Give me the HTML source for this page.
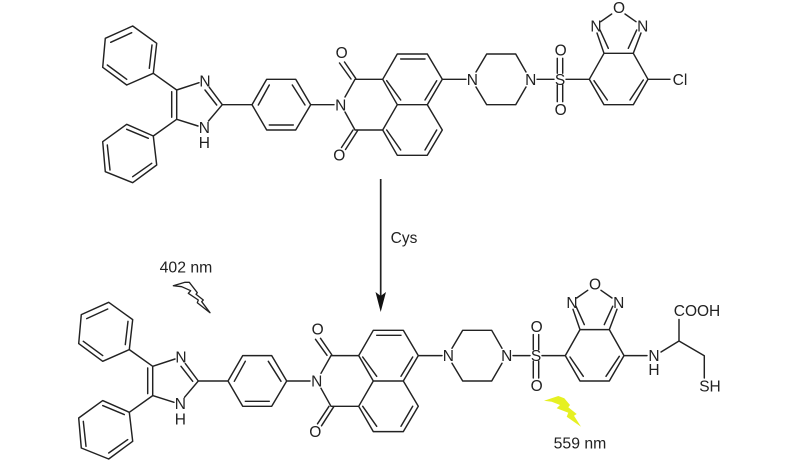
<!DOCTYPE html>
<html>
<head>
<meta charset="utf-8">
<style>
html,body{margin:0;padding:0;background:#fff;width:800px;height:460px;overflow:hidden}
svg{display:block}
text{font-family:"Liberation Sans",sans-serif;font-size:15.5px;fill:#222;text-anchor:middle}
.b{fill:none;stroke:#222;stroke-width:1.45;stroke-linejoin:round;stroke-linecap:round}
</style>
</head>
<body>
<svg width="800" height="460" viewBox="0 0 800 460" xmlns="http://www.w3.org/2000/svg">
<rect width="800" height="460" fill="#fff"/>

<!-- Top molecule -->
<g>
<path class="b" d="M132.7 26L156.7 43.3L153.3 73.3L126.7 85L102.7 67.3L105.3 38.3ZM110.7 42.3L131.7 32.7M152 45L149.3 68.3M107.3 65L126.7 79.3
M153.3 136L126.7 124.3L102.7 141.7L105.3 171.7L132.7 182.7L156.7 165ZM126.7 129.3L148.3 138.3M107.3 145L110 170M132.7 176.7L151.7 163.3
M153.3 73.3L176.7 90L199 82.7M176.7 90V119.3M171.7 91.7V117.3M153.3 136L176.7 119.3L198 126
M209.3 87.3L222.3 104.7L208.5 121M205 90L216.7 105M222.3 104.7H252
M252 104.7L266.7 79.3H295.7L310.7 104.7L295.7 130H266.7ZM258.3 105L269.3 85M292.3 85L305 105M269.3 125H293.3
M310.7 104.7H334M345 97L355 79.3H382.7M345 112L355 130H382.7
M355.7 78.3L344.5 62M351 79L339.5 63M358 130L345.5 149.5M353 130L341.5 147.5
M382.7 79.3L397.3 54H427.3L442.3 79.3L427.3 104.7H397.3ZM400.7 59H425M425 100L436.7 80.7M386.7 80.7L400.7 100
M397.3 104.7L382.7 130L397.3 155.3H427.3L442.3 130L427.3 104.7M386.7 130L400.7 150M425 150L436.7 130
M442.3 79.3H466M476 72L486.7 54H515.7L526 72M526 87L515.7 104.7H486.7L476 87
M537 79.3H554M566 79.3H589.3M557.3 58.3V73.3M562.7 58.3V73.3M557.3 85V101.7M562.7 85V101.7
M589.3 79.3L604 53.3H633.3L648 79.3L633.3 104.7H604ZM594 80.7L607.3 100M630 100L643.3 80
M604 53.3L597 33M608.3 48.3L600 30M633.3 53.3L641 33M628.3 48.3L636.7 30
M600.7 21.7L611.7 14M625 14L636 21.7M648 79.3H670"/>
<text x="205" y="86.3">N</text>
<text x="204.3" y="132.8">N</text>
<text x="204.3" y="148">H</text>
<text x="340.7" y="110.3">N</text>
<text x="341.7" y="58.2">O</text>
<text x="339.3" y="160.5">O</text>
<text x="472.3" y="84.8">N</text>
<text x="530.7" y="84.8">N</text>
<text x="560" y="84.8">S</text>
<text x="560.7" y="55.5">O</text>
<text x="560.7" y="114.8">O</text>
<text x="596" y="31.5">N</text>
<text x="642.7" y="31.5">N</text>
<text x="619" y="13.2">O</text>
<text x="680" y="84.8">Cl</text>
</g>

<!-- Arrow -->
<path d="M380.7 179V298" stroke="#222" stroke-width="1.7" fill="none"/>
<path d="M375.5 292L380.7 296L386 292L380.7 312Z" fill="#111"/>
<text x="404" y="243">Cys</text>

<!-- Bottom molecule -->
<g transform="translate(-24 276.3)">
<path class="b" d="M132.7 26L156.7 43.3L153.3 73.3L126.7 85L102.7 67.3L105.3 38.3ZM110.7 42.3L131.7 32.7M152 45L149.3 68.3M107.3 65L126.7 79.3
M153.3 136L126.7 124.3L102.7 141.7L105.3 171.7L132.7 182.7L156.7 165ZM126.7 129.3L148.3 138.3M107.3 145L110 170M132.7 176.7L151.7 163.3
M153.3 73.3L176.7 90L199 82.7M176.7 90V119.3M171.7 91.7V117.3M153.3 136L176.7 119.3L198 126
M209.3 87.3L222.3 104.7L208.5 121M205 90L216.7 105M222.3 104.7H252
M252 104.7L266.7 79.3H295.7L310.7 104.7L295.7 130H266.7ZM258.3 105L269.3 85M292.3 85L305 105M269.3 125H293.3
M310.7 104.7H334M345 97L355 79.3H382.7M345 112L355 130H382.7
M355.7 78.3L344.5 62M351 79L339.5 63M358 130L345.5 149.5M353 130L341.5 147.5
M382.7 79.3L397.3 54H427.3L442.3 79.3L427.3 104.7H397.3ZM400.7 59H425M425 100L436.7 80.7M386.7 80.7L400.7 100
M397.3 104.7L382.7 130L397.3 155.3H427.3L442.3 130L427.3 104.7M386.7 130L400.7 150M425 150L436.7 130
M442.3 79.3H466M476 72L486.7 54H515.7L526 72M526 87L515.7 104.7H486.7L476 87
M537 79.3H554M566 79.3H589.3M557.3 58.3V73.3M562.7 58.3V73.3M557.3 85V101.7M562.7 85V101.7
M589.3 79.3L604 53.3H633.3L648 79.3L633.3 104.7H604ZM594 80.7L607.3 100M630 100L643.3 80
M604 53.3L597 33M608.3 48.3L600 30M633.3 53.3L641 33M628.3 48.3L636.7 30
M600.7 21.7L611.7 14M625 14L636 21.7M648 79.3H671"/>
<text x="205" y="86.3">N</text>
<text x="204.3" y="132.8">N</text>
<text x="204.3" y="148">H</text>
<text x="340.7" y="110.3">N</text>
<text x="341.7" y="58.2">O</text>
<text x="339.3" y="160.5">O</text>
<text x="472.3" y="84.8">N</text>
<text x="530.7" y="84.8">N</text>
<text x="560" y="84.8">S</text>
<text x="560.7" y="55.5">O</text>
<text x="560.7" y="114.8">O</text>
<text x="596" y="31.5">N</text>
<text x="642.7" y="31.5">N</text>
<text x="619" y="13.2">O</text>
</g>

<!-- Cysteine substituent -->
<path class="b" d="M661 352L679 341L704.3 355.7V378M679 341V319.5"/>
<text x="654" y="361.2">N</text>
<text x="654" y="375">H</text>
<text x="697" y="316">COOH</text>
<text x="710" y="391.5">SH</text>

<!-- Excitation / emission -->
<text x="186" y="272.5" style="font-size:15.8px">402 nm</text>
<path d="M173.3 285.7L185 282.3L189.3 282.3L197.3 292.7L196 294.3L203.3 300L201.7 301.7L210 312.7L197.3 302.7L198.3 300L188.3 293.3L190.7 290.7L181.7 286.7Z" fill="#fff" stroke="#222" stroke-width="1.3" stroke-linejoin="round"/>
<path d="M544 400.7L558.3 396L564.3 398.3L570 405L568.3 407.3L576.7 414L574 415.7L581 426.7L566.7 416.7L568.3 412.7L556.7 408.3L560 405L551.7 401.7Z" fill="#e6f022"/>
<text x="580" y="448.3" style="font-size:15.8px">559 nm</text>
</svg>
</body>
</html>
